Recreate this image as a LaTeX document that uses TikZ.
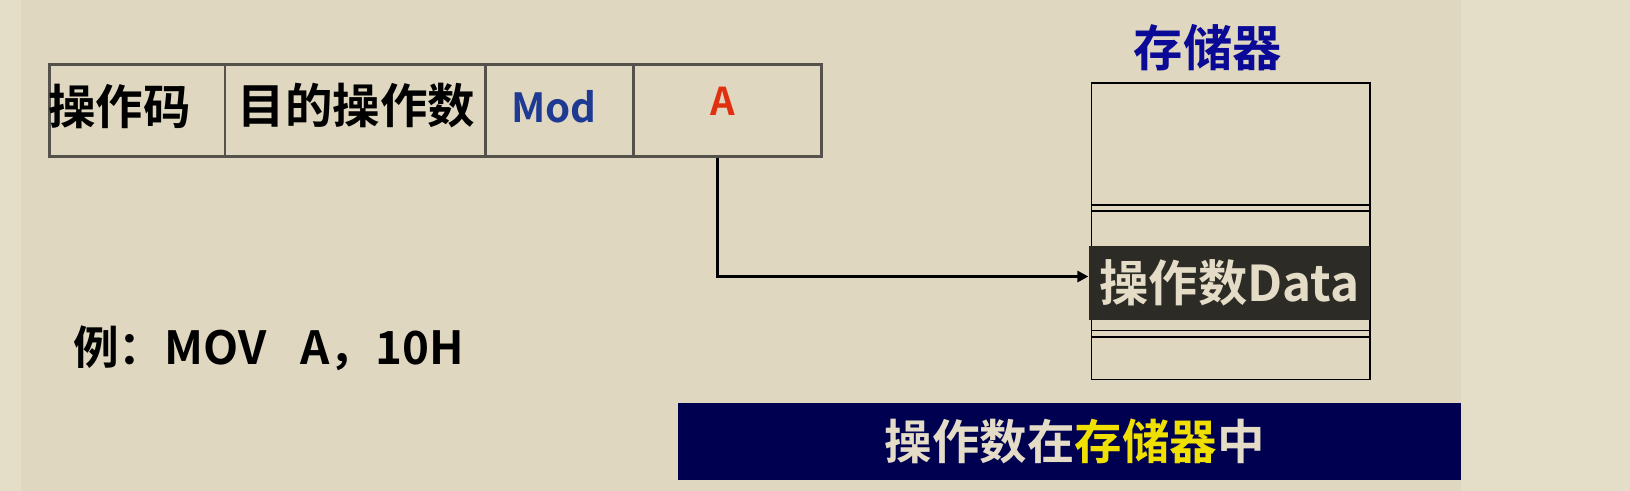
\documentclass[tikz,border=0pt]{standalone}
\usepackage{fontspec}
\newfontfamily\cjk{Noto Sans CJK SC Bold}
\usetikzlibrary{arrows.meta}
\definecolor{bg}{HTML}{DFD7C0}
\definecolor{bgl}{HTML}{E4DDC8}
\definecolor{cellb}{HTML}{55524C}
\definecolor{modc}{HTML}{1F3A93}
\definecolor{ac}{HTML}{E03010}
\definecolor{memt}{HTML}{0A0A96}
\definecolor{datab}{HTML}{2D2B26}
\definecolor{cream}{HTML}{E4DCC6}
\definecolor{navy}{HTML}{000050}
\definecolor{yel}{HTML}{F0E000}
\tikzset{cell/.style={draw=cellb,line width=1.6pt,anchor=north west,inner sep=0pt},
 memline/.style={draw=black,line width=0.9pt}}
\begin{document}
\begin{tikzpicture}[x=0.02cm,y=-0.02cm,font=\cjk]
\fill[bgl] (0,0) rectangle (1568,472);
\fill[bg] (20,0) rectangle (1405,472);
\useasboundingbox (0,0) rectangle (1568,472);
% instruction cells
\node[cell,minimum width=169*0.02cm,minimum height=88*0.02cm] (c1) at (46,61) {};
\node[cell,minimum width=251*0.02cm,minimum height=88*0.02cm] (c2) at (215,61) {};
\node[cell,minimum width=142*0.02cm,minimum height=88*0.02cm] (c3) at (466,61) {};
\node[cell,minimum width=181*0.02cm,minimum height=88*0.02cm] (c4) at (608,61) {};
\node[font=\cjk\fontsize{26}{26}\selectfont,anchor=west,inner sep=0pt] (t1) at (46,102) {操作码};
\node[font=\cjk\fontsize{26}{26}\selectfont] (t2) at (343,102) {目的操作数};
\node[font=\cjk\fontsize{22}{22}\selectfont,text=modc] (t3) at (533,103) {Mod};
\node[font=\cjk\fontsize{21}{21}\selectfont,text=ac] (t4) at (695,97) {A};
% memory
\node[memt,font=\cjk\fontsize{27}{27}\selectfont] (memtitle) at (1162,46) {存储器};
\draw[memline] (1050,80) rectangle (1318,365);
\draw[memline] (1050,197) -- (1318,197) (1050,203) -- (1318,203);
\draw[memline] (1050,318) -- (1318,318) (1050,324) -- (1318,324);
\node[fill=datab,anchor=north west,minimum width=271*0.02cm,minimum height=71*0.02cm,inner sep=0pt] (data) at (1047,236) {};
\node[text=cream,font=\cjk\fontsize{27}{27}\selectfont] at (data.center) {操作数Data};
\coordinate (bend) at (690,266);
\draw[line width=1.6pt,-{Triangle[length=6pt,width=6pt]}] (c4.south-|bend) -- (bend) -- (bend-|data.west);
% example
\node[anchor=west,font=\cjk\fontsize{25}{25}\selectfont,inner sep=0pt] (ex) at (70,335) {例：MOV\hspace{0.75em}A，10H};
% banner
\node[fill=navy,anchor=north west,minimum width=753*0.02cm,minimum height=74*0.02cm,inner sep=0pt] (ban) at (652,387) {};
\node[font=\cjk\fontsize{26}{26}\selectfont,text=cream] at (1034,425) {操作数在\textcolor{yel}{存储器}中};
\end{tikzpicture}
\end{document}
